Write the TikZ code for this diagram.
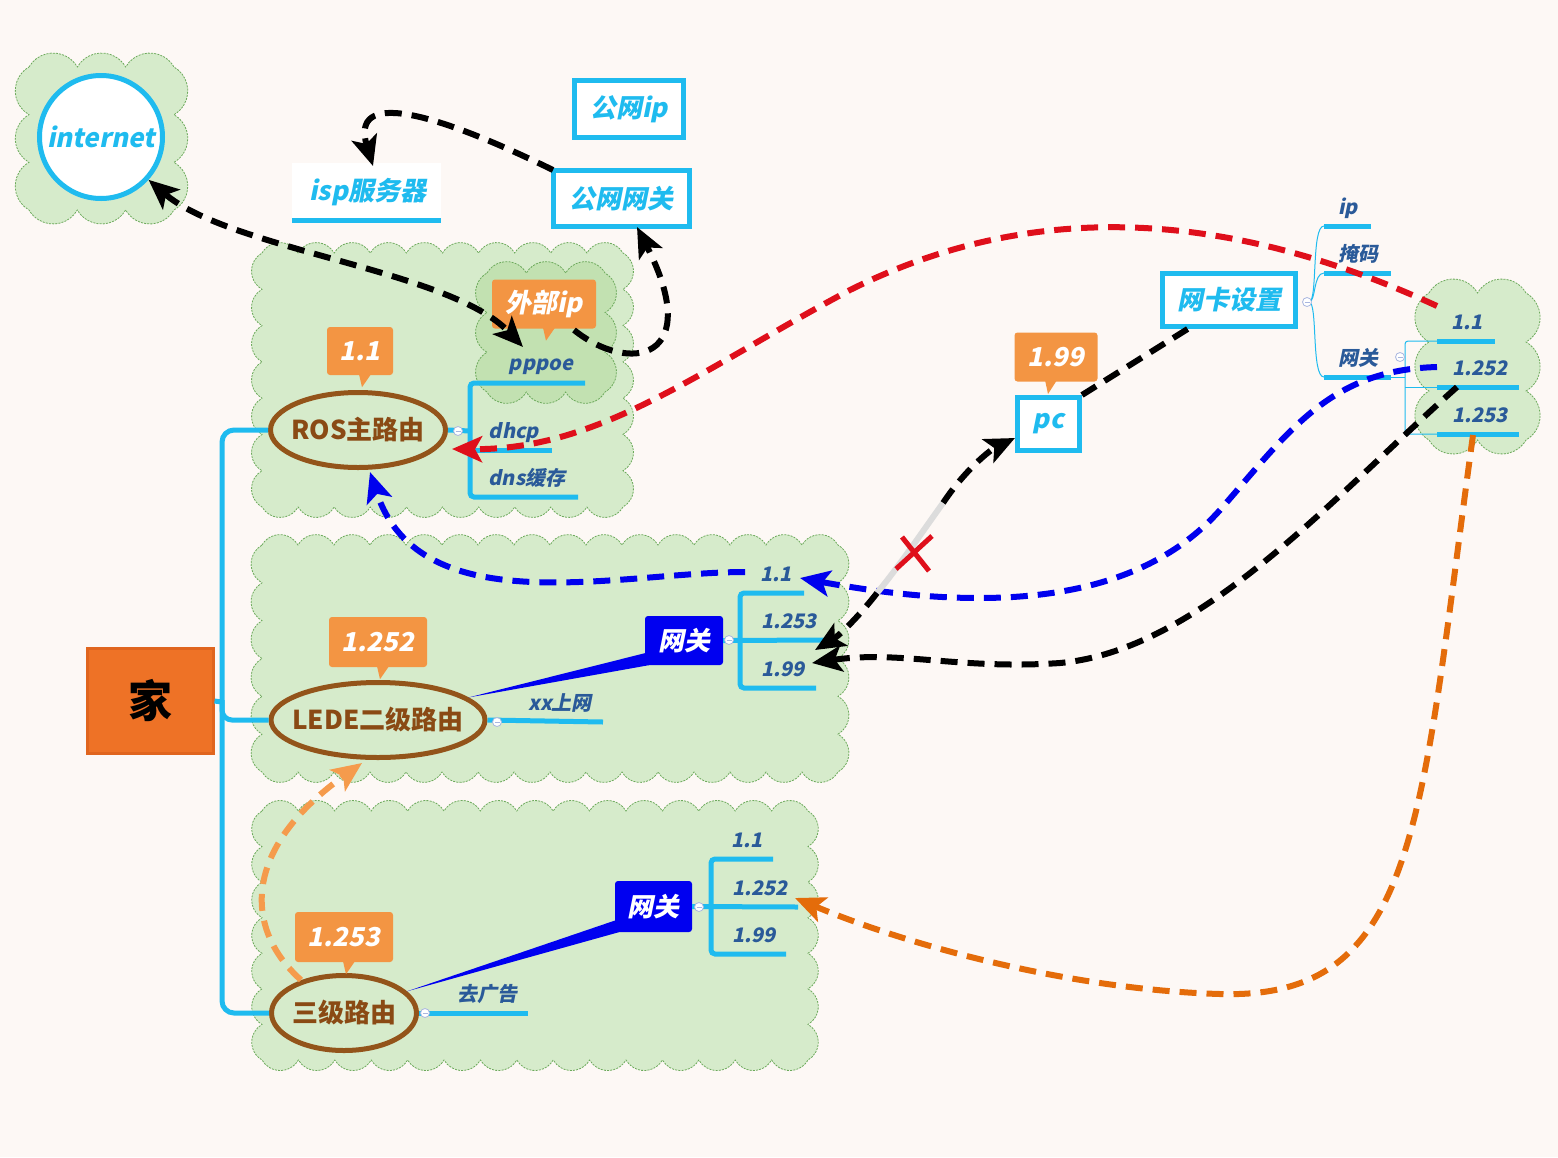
\documentclass[tikz,border=0pt]{standalone}
\usepackage{fontspec}
\newfontfamily\cjk{Noto Sans CJK SC}
\newfontfamily\cjksl{Noto Sans CJK SC}[UprightFeatures={FakeSlant=0.2}, BoldFeatures={FakeSlant=0.2}]
\usetikzlibrary{arrows.meta,shapes.geometric,calc}
\definecolor{bg}{HTML}{FDF8F5}
\definecolor{sky}{HTML}{1FBBEF}
\definecolor{lab}{HTML}{2A5A99}
\definecolor{brn}{HTML}{93541A}
\definecolor{brt}{HTML}{8A4A14}
\definecolor{cal}{HTML}{F39543}
\definecolor{homef}{HTML}{EE7226}
\definecolor{homeb}{HTML}{E0651E}
\definecolor{cfill}{HTML}{D6EBCB}
\definecolor{cfill2}{HTML}{C2E1B1}
\definecolor{cline}{HTML}{6DAA5C}
\definecolor{gwb}{HTML}{0000F0}
\definecolor{ared}{HTML}{DF0F1B}
\definecolor{ablue}{HTML}{0000EE}
\definecolor{aor}{HTML}{E46C0A}
\definecolor{aor2}{HTML}{F59B4C}
\definecolor{agray}{HTML}{DCDCDC}
\definecolor{mk}{HTML}{A9B6DF}
\tikzset{
  lbl/.style={text=lab, font=\cjksl\bfseries\fontsize{20}{24}\selectfont, inner sep=0pt, anchor=base},
  big/.style={text=sky, font=\cjksl\bfseries\fontsize{26}{30}\selectfont, inner sep=0pt},
  bluebox/.style={draw=sky, line width=5pt, fill=white, inner sep=0pt, big},
  uline/.style={draw=sky, line width=5pt},
  thinl/.style={draw=sky, line width=1pt},
  router/.style={ellipse, draw=brn, line width=5pt, inner sep=0pt},
  rtext/.style={text=brt, font=\cjk\bfseries\fontsize{26}{30}\selectfont, inner sep=0pt},
  callout/.style={fill=cal, rounded corners=3pt, text=white, font=\cjksl\bfseries\fontsize{26}{30}\selectfont, inner sep=0pt},
  gwbox/.style={fill=gwb, rounded corners=3pt, text=white, font=\cjksl\bfseries\fontsize{26}{30}\selectfont, inner sep=0pt},
  marker/.style={circle, draw=mk, fill=white, line width=0.8pt, minimum size=9pt, inner sep=0pt,
    path picture={\draw[mk, line width=0.8pt] ([xshift=-2.5pt]path picture bounding box.center) -- ([xshift=2.5pt]path picture bounding box.center);}},
  cloudst/.style={draw=cline, line width=0.8pt, dash pattern=on 2pt off 1.2pt},
  darr/.style={line width=6pt, dash pattern=on 17pt off 10pt},
  tipe/.style={-{Stealth[length=30pt,width=26pt,inset=7pt]}},
  tipb/.style={{Stealth[length=30pt,width=26pt,inset=7pt]}-{Stealth[length=30pt,width=26pt,inset=7pt]}}
}
\newcommand\cloudpath[6]{%
  \pgfmathtruncatemacro\cnx{max(2,round((#3-#1-20)/#6))}%
  \pgfmathtruncatemacro\cny{max(2,round((#4-#2-20)/#6))}%
  \pgfmathsetmacro\crx{(#3-#1-20)/\cnx/sqrt(3)}%
  \pgfmathsetmacro\cry{(#4-#2-20)/\cny/sqrt(3)}%
  \path[cloudst, fill=#5] (#1+10,-#2-10)
    foreach \ci in {1,...,\cnx}{arc[start angle=150,end angle=30,radius=\crx pt]}
    foreach \ci in {1,...,\cny}{arc[start angle=60,end angle=-60,radius=\cry pt]}
    foreach \ci in {1,...,\cnx}{arc[start angle=-30,end angle=-150,radius=\crx pt]}
    foreach \ci in {1,...,\cny}{arc[start angle=240,end angle=120,radius=\cry pt]} -- cycle;}
\newcommand\ptr[1]{\fill[cal] ([xshift=-1pt,yshift=1pt]#1.south) -- ([xshift=11pt,yshift=1pt]#1.south) -- ([xshift=2pt,yshift=-12pt]#1.south) -- cycle;}
\begin{document}
\begin{tikzpicture}[x=1pt,y=1pt]
\useasboundingbox (0,0) rectangle (1558,-1157);
\fill[bg] (0,0) rectangle (1558,-1157);

% clouds
\cloudpath{19}{57}{184}{220}{cfill}{45}
\cloudpath{252}{243}{633}{517}{cfill}{36}
\cloudpath{477}{263}{615}{402}{cfill2}{45}
\cloudpath{252}{535}{848}{782}{cfill}{36}
\cloudpath{252}{801}{818}{1070}{cfill}{36}
\cloudpath{1419}{283}{1536}{450}{cfill}{48}

% main nodes
\node[fill=homef, draw=homeb, line width=3pt, minimum width=126pt, minimum height=105pt, inner sep=0pt,
      font=\cjk\bfseries\fontsize{44}{48}\selectfont] (home) at (150,-701) {家};
\node[router, minimum width=175pt, minimum height=75pt] (ros) at (358,-430) {};
\node[rtext] (rost) at (ros) {ROS主路由};
\node[router, minimum width=214pt, minimum height=75pt] (lede) at (378,-720) {};
\node[rtext] (ledet) at (lede) {LEDE二级路由};
\node[router, minimum width=145pt, minimum height=75pt] (san) at (344,-1013) {};
\node[rtext] (sant) at (san) {三级路由};

% trunk
\draw[uline, rounded corners=12pt] (ros.west) -- (222,-430) -- (222,-1013) -- (san.west);
\draw[uline, rounded corners=10pt] (222,-700) -- (222,-720) -- (lede.west);
\draw[uline] (home.east) -- (222,-702);

% top
\node[circle, draw=sky, line width=5pt, fill=white, minimum size=123pt, inner sep=0pt, big] (inet) at (101,-137) {internet};
\node[fill=white, minimum width=149pt, minimum height=57pt, inner sep=0pt] (ispbg) at (366.5,-191.5) {};
\node[big] (isp) at (368,-192) {isp服务器};
\draw[uline] (ispbg.south west) -- (ispbg.south east);
\node[bluebox, minimum width=109pt, minimum height=57pt] (gwip) at (629,-109) {公网ip};
\node[bluebox, minimum width=136pt, minimum height=56pt] (gwgw) at (621.5,-198.5) {公网网关};

% ROS branch
\node[callout, minimum width=66pt, minimum height=48pt] (c11) at (360,-351) {1.1};
\ptr{c11}
\node[callout, minimum width=104pt, minimum height=49pt] (wbip) at (544,-304) {外部ip};
\ptr{wbip}
\draw[uline] (ros.east) -- (470,-431);
\draw[uline, rounded corners=4pt] (585,-383) -- (470,-383) -- (470,-497) -- (578,-497);
\draw[uline] (470,-450) -- (552,-450);
\node[lbl] (pppoe) at (541,-370) {pppoe};
\node[lbl] (dhcp) at (514,-438) {dhcp};
\node[lbl] (dns) at (527,-485) {dns缓存};
\node[marker] (m1) at (458,-431) {};

% LEDE branch
\node[callout, minimum width=98pt, minimum height=50pt] (c252) at (378,-642) {1.252};
\ptr{c252}
\node[gwbox, minimum width=78pt, minimum height=49pt] (lgw) at (684,-640.5) {网关};
\fill[gwb] (lede.14) -- ([xshift=4pt,yshift=13pt]lgw.south west) -- ([xshift=4pt]lgw.south west) -- cycle;
\draw[uline] (lede.east) -- (603,-722);
\node[lbl] (xx) at (560,-710) {xx上网};
\draw[uline] (lgw.east) -- (826,-640);
\draw[uline, rounded corners=4pt] (804,-593) -- (740,-593) -- (740,-688) -- (816,-688);
\node[lbl] (l11) at (776,-581) {1.1};
\node[lbl] (l253) at (789,-628) {1.253};
\node[lbl] (l199) at (783,-676) {1.99};
\node[marker] (m2) at (497,-722) {};
\node[marker] (m4) at (729,-640) {};

% third branch
\node[callout, minimum width=98pt, minimum height=50pt] (c253) at (344,-937) {1.253};
\ptr{c253}
\node[gwbox, minimum width=77pt, minimum height=51pt] (sgw) at (653.5,-906.5) {网关};
\fill[gwb] (san.19) -- ([xshift=4pt,yshift=13pt]sgw.south west) -- ([xshift=4pt]sgw.south west) -- cycle;
\draw[uline] (san.east) -- (528,-1013);
\node[lbl] (qgg) at (487,-1001) {去广告};
\draw[uline] (sgw.east) -- (798,-907);
\draw[uline, rounded corners=4pt] (773,-859) -- (711,-859) -- (711,-954) -- (786,-954);
\node[lbl] (s11) at (747,-847) {1.1};
\node[lbl] (s252) at (760,-895) {1.252};
\node[lbl] (s199) at (754,-942) {1.99};
\node[marker] (m3) at (425,-1013) {};
\node[marker] (m5) at (699,-907) {};

% right side
\node[bluebox, minimum width=133pt, minimum height=53pt] (nic) at (1229,-300) {网卡设置};
\node[bluebox, minimum width=62pt, minimum height=53pt] (pc) at (1048.5,-424) {pc};
\node[callout, minimum width=83pt, minimum height=49pt] (c199) at (1056,-357) {1.99};
\fill[cal] (1045,-380) -- (1057,-380) -- (1048,-394) -- cycle;
\draw[thinl] (1309,-302) .. controls (1318,-302) and (1311,-226) .. (1324,-226);
\draw[thinl] (1309,-302) .. controls (1316,-302) and (1313,-273) .. (1324,-273);
\draw[thinl] (1309,-302) .. controls (1318,-302) and (1311,-377) .. (1324,-377);
\draw[uline] (1324,-226) -- (1371,-226);
\draw[uline] (1324,-273) -- (1391,-273);
\draw[uline] (1324,-377) -- (1391,-377);
\node[lbl] (ip) at (1348,-214) {ip};
\node[lbl] (mask) at (1358,-261) {掩码};
\node[lbl] (gwr) at (1358,-365) {网关};
\draw[thinl] (1391,-377) -- (1405,-377);
\draw[thinl, rounded corners=3pt] (1437,-341) -- (1405,-341) -- (1405,-434) -- (1437,-434);
\draw[thinl] (1405,-387) -- (1437,-387);
\draw[uline] (1437,-341) -- (1495,-341);
\draw[uline] (1437,-387) -- (1519,-387);
\draw[uline] (1437,-434) -- (1519,-434);
\node[lbl] (r11) at (1467,-329) {1.1};
\node[lbl] (r252) at (1480,-375) {1.252};
\node[lbl] (r253) at (1480,-422) {1.253};
\node[marker] (m6) at (1307,-302) {};
\node[marker] (m7) at (1400,-357) {};

% arrow end points
\coordinate (ispT) at (373,-166);
\coordinate (gwS) at (553,-170);
\coordinate (pppA) at (523,-347);
\coordinate (wbS) at (574,-330);
\coordinate (gwB) at (637,-227);
\coordinate (rS) at (1437,-306);
\coordinate (rE) at (452,-449);
\coordinate (bS) at (1437,-367);
\coordinate (bE) at (800,-578);
\coordinate (b2S) at (745,-572);
\coordinate (b2E) at (370,-472);
\coordinate (kS) at (1457,-387);
\coordinate (kE) at (812,-663);
\coordinate (pA) at (943,-503);
\coordinate (pB) at (877,-593);
\coordinate (pE) at (815,-650);
\coordinate (oS) at (1473,-435);
\coordinate (oE) at (795,-898);
\coordinate (o2S) at (301,-980);
\coordinate (o2E) at (362,-763);

% arrows
\draw[darr, black, tipe] (gwS) .. controls (430,-110) and (350,-90) .. (ispT);
\draw[darr, black, tipb] (inet.-42) .. controls (230,-250) and (450,-270) .. (pppA);
\draw[darr, black, tipe] (wbS) .. controls (630,-375) and (705,-360) .. (gwB);
\draw[darr, black] ($(nic.south west)!0.2!(nic.south east)$) -- (pc.north east);
\draw[darr, ared, tipe] (rS) .. controls (1250,-220) and (1050,-190) .. (850,-290) .. controls (700,-370) and (600,-450) .. (rE);
\draw[darr, ablue, tipe] (bS) .. controls (1330,-370) and (1290,-430) .. (1220,-510) .. controls (1140,-600) and (1000,-615) .. (bE);
\draw[darr, ablue, tipe] (b2S) .. controls (620,-572) and (420,-625) .. (b2E);
\draw[darr, black, tipe] (kS) .. controls (1330,-500) and (1200,-650) .. (1060,-663) .. controls (960,-670) and (900,-650) .. (kE);
\draw[darr, black, tipe] (pA) .. controls (965,-470) and (990,-450) .. (pc.west |- 0,-438);
\draw[line width=6pt, agray] (pA) .. controls (920,-535) and (900,-565) .. (pB);
\draw[darr, black, tipe] (pB) .. controls (860,-615) and (840,-635) .. (pE);
\draw[ared, line width=5pt] (896,-569) -- (932,-536);
\draw[ared, line width=5pt] (902,-537) -- (929,-571);
\draw[darr, aor, tipe] (oS) .. controls (1420,-820) and (1420,-1000) .. (1220,-994) .. controls (1080,-990) and (920,-950) .. (oE);
\draw[darr, aor2, tipe] (o2S) .. controls (245,-930) and (240,-850) .. (o2E);
\end{tikzpicture}
\end{document}
